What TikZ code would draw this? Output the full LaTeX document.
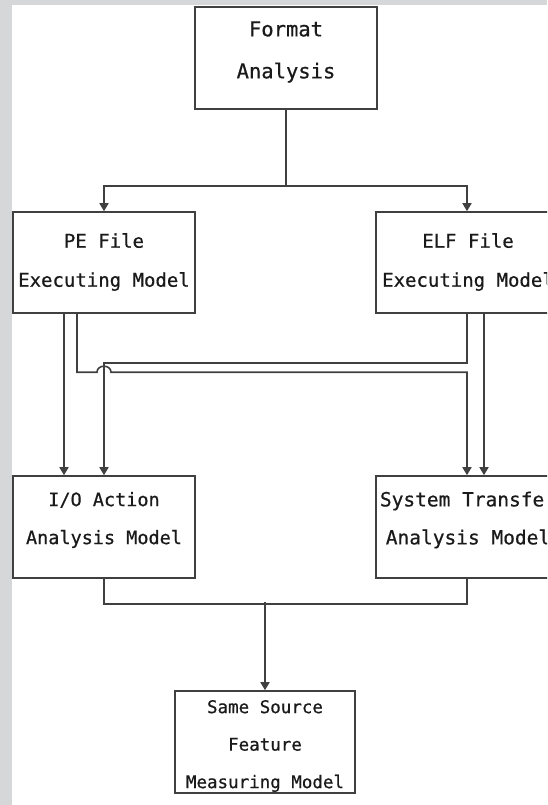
\documentclass[tikz,border=0pt]{standalone}
\usepackage{fontspec}
\newfontfamily\boxfont[FakeBold=0.6]{DejaVu Sans Mono}
\usetikzlibrary{arrows.meta}

\definecolor{pagegray}{HTML}{D6D7D9}
\definecolor{linegray}{HTML}{404040}
\definecolor{inkgray}{HTML}{1A1A1A}

\tikzset{
  stagebox/.style={draw=linegray, line width=1.6pt, inner sep=0pt,
    minimum width=182pt, minimum height=102pt},
  boxtext/.style={align=center, text=inkgray, inner sep=0pt},
  conn/.style={draw=linegray, line width=1.6pt},
  arr/.style={conn, -{Triangle[length=8pt,width=9pt]}},
}

\begin{document}
\begin{tikzpicture}[x=1pt, y=-1pt]
  % canvas: grey page edge on the left and top, white sheet
  \useasboundingbox (0,0) rectangle (547,805);
  \clip (0,0) rectangle (547,805);
  \fill[pagegray] (0,0) rectangle (547,805);
  \fill[white] (12,5) rectangle (547,805);

  % boxes
  \node[stagebox] (fmt)  at (286,58)    {};
  \node[stagebox, minimum height=101pt] (pe)   at (104,262.5) {};
  \node[stagebox, minimum height=101pt] (elf)  at (467,262.5) {};
  \node[stagebox] (io)   at (104,527)   {};
  \node[stagebox] (sys)  at (467,527)   {};
  \node[stagebox, minimum width=180pt] (same) at (265,742) {};

  % box texts
  \node[boxtext, font={\boxfont\fontsize{20.5}{42}\selectfont}] (fmt-t) at (286,52) {Format\\Analysis};
  \node[boxtext, font={\boxfont\fontsize{19}{39}\selectfont}] (pe-t)  at (104,262) {PE File\\Executing Model};
  \node[boxtext, font={\boxfont\fontsize{19}{39}\selectfont}] (elf-t) at (468,262) {ELF File\\Executing Model};
  \node[boxtext, font={\boxfont\fontsize{18.5}{38}\selectfont}] (io-t)  at (104,520) {I/O Action\\Analysis Model};
  \node[boxtext, font={\boxfont\fontsize{19.5}{38}\selectfont}] (sys-t) at (468,520) {System Transfer\\Analysis Model};
  \node[boxtext, font={\boxfont\fontsize{17.5}{37.5}\selectfont}] (same-t) at (265,746) {Same Source\\Feature\\Measuring Model};

  % format analysis splits into the two executing models
  \draw[conn] (fmt.south) -- ++(0,76) coordinate (split);
  \draw[arr] (split) -| (pe.north);
  \draw[arr] (split) -| (elf.north);

  % straight feeds
  \draw[arr] ([xshift=-40pt]pe.south) -- ([xshift=-40pt]io.north);
  \draw[arr] ([xshift=17pt]elf.south) -- ([xshift=17pt]sys.north);

  % ELF model to the I/O model
  \draw[arr] (elf.south) -- ++(0,49) -| (io.north);

  % PE model to the system transfer model, hopping over the crossing
  \path (io.north) ++(-7,-103) coordinate (hopL);
  \path (io.north) ++(7,-103) coordinate (hopR);
  \draw[arr] ([xshift=-27pt]pe.south) |- (hopL)
    .. controls +(0,-8) and +(0,-8) .. (hopR) -| (sys.north);

  % both analysis models merge into the measuring model
  \draw[conn] (io.south) -- ++(0,25) -| (sys.south);
  \path (same.north) ++(0,-88) coordinate (merge);
  \draw[arr] (merge) -- (same.north);
\end{tikzpicture}
\end{document}
